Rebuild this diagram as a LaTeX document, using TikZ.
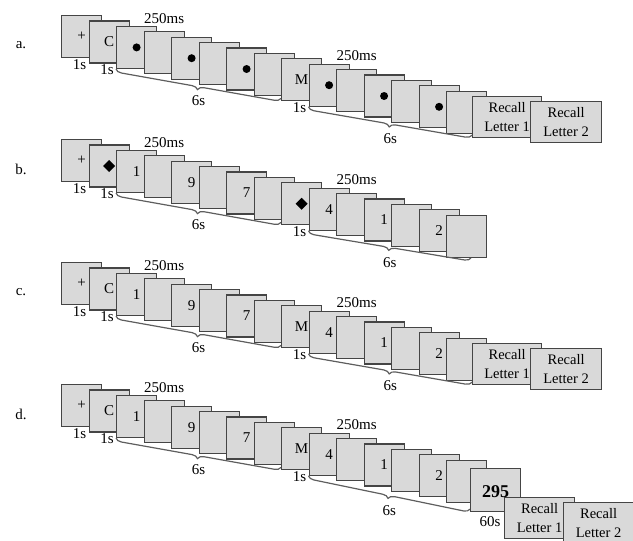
\documentclass[tikz,border=0pt]{standalone}
\usepackage{fontspec}
\setmainfont{Liberation Serif}
\usetikzlibrary{calc,decorations.pathreplacing}
\definecolor{cardfill}{HTML}{D9D9D9}
\definecolor{cardline}{HTML}{454545}
\definecolor{bracecol}{HTML}{5E5E5E}
\newcommand\dotmk{\tikz\fill (0,0) circle (4pt);}
\newcommand\diamk{\tikz\fill (0,6pt) -- (6pt,0) -- (0,-6pt) -- (-6pt,0) -- cycle;}
\newcommand\trialrow[3]{%
  \foreach \cont [count=\i] in {#3} {%
    \pgfmathsetmacro\bx{61+27.5*(\i-1)}%
    \pgfmathsetmacro\by{#2+15+5.4*(\i-1)}%
    \node[card] (#1\i) at (\bx,\by) {\cont};%
  }%
}
\newcommand\rowlabels[2]{%
  \node[lab] (#1lab) at (21,45+#2) {#1.};
  \node[lab, xshift=-9pt, yshift=-6pt] (#1ta) at (#11.south -| #12.west) {1s};
  \node[lab, xshift=-9pt, yshift=-6pt] (#1tb) at (#12.south -| #13.west) {1s};
  \node[lab, xshift=-9pt, yshift=-6pt] (#1tc) at (#19.south -| #110.west) {1s};
  \node[lab, yshift=13pt] (#1ma) at (#14.north) {250ms};
  \node[lab, yshift=13pt] (#1mb) at (#111.north) {250ms};
  \draw[br] (#13.south west) -- ([yshift=3pt]#19.south west);
  \path (#13.south west) -- ([yshift=3pt]#19.south west) node[lab, midway, yshift=-17pt] (#1sa) {6s};
}
\begin{document}
\begin{tikzpicture}[x=1pt,y=-1pt,
  card/.style={draw=cardline, fill=cardfill, line width=1.2pt, minimum width=40pt,
    minimum height=42pt, inner sep=0pt, anchor=north west, font=\fontsize{15}{17}\selectfont},
  recallbox/.style={card, minimum width=69pt, minimum height=41pt, align=center,
    font=\fontsize{14.5}{19}\selectfont},
  lab/.style={inner sep=0pt, font=\fontsize{15}{17}\selectfont},
  br/.style={draw=bracecol, line width=1.2pt, decorate, decoration={brace, mirror, amplitude=6pt}}]
\useasboundingbox (0,0) rectangle (633,541);

% ---------- panel a ----------
\trialrow{a}{0}{+,C,\dotmk,{},\dotmk,{},\dotmk,{},M,\dotmk,{},\dotmk,{},\dotmk,{}}
\node[recallbox] (a16) at (472,96) {Recall\\Letter 1};
\node[recallbox, minimum width=71pt] (a17) at (530,101) {Recall\\Letter 2};
\rowlabels{a}{0}
\draw[br] (a10.south west) -- ([yshift=3pt]a16.south west);
\path (a10.south west) -- ([yshift=3pt]a16.south west) node[lab, midway, yshift=-18pt] (asb) {6s};

% ---------- panel b ----------
\trialrow{b}{124}{+,\diamk,1,{},9,{},7,{},\diamk,4,{},1,{},2,{}}
\coordinate (b16) at (471,258);
\rowlabels{b}{124}
\draw[br] (b10.south west) -- (b16);
\path (b10.south west) -- (b16) node[lab, midway, yshift=-18pt] (bsb) {6s};

% ---------- panel c ----------
\trialrow{c}{247}{+,C,1,{},9,{},7,{},M,4,{},1,{},2,{}}
\node[recallbox] (c16) at (472,343) {Recall\\Letter 1};
\node[recallbox, minimum width=71pt] (c17) at (530,348) {Recall\\Letter 2};
\rowlabels{c}{247}
\draw[br] (c10.south west) -- ([yshift=3pt]c16.south west);
\path (c10.south west) -- ([yshift=3pt]c16.south west) node[lab, midway, yshift=-18pt] (csb) {6s};

% ---------- panel d ----------
\trialrow{d}{369}{+,C,1,{},9,{},7,{},M,4,{},1,{},2,{}}
\node[card, minimum width=50pt, minimum height=43pt] (d16) at (470,468) {};
\node[recallbox, minimum width=70pt] (d17) at (504,497) {Recall\\Letter 1};
\node[recallbox, minimum width=70pt] (d18) at (563,502) {Recall\\Letter 2};
\node[inner sep=0pt, font=\bfseries\fontsize{18}{20}\selectfont] (d295) at ([yshift=-1.5pt]d16.center) {295};
\node[lab] (d60) at (490,522) {60s};
\rowlabels{d}{369}
\draw[br] (d10.south west) -- ([yshift=3pt]d16.south west);
\path (d10.south west) -- ([yshift=3pt]d16.south west) node[lab, midway, yshift=-18pt] (dsb) {6s};
\end{tikzpicture}
\end{document}
